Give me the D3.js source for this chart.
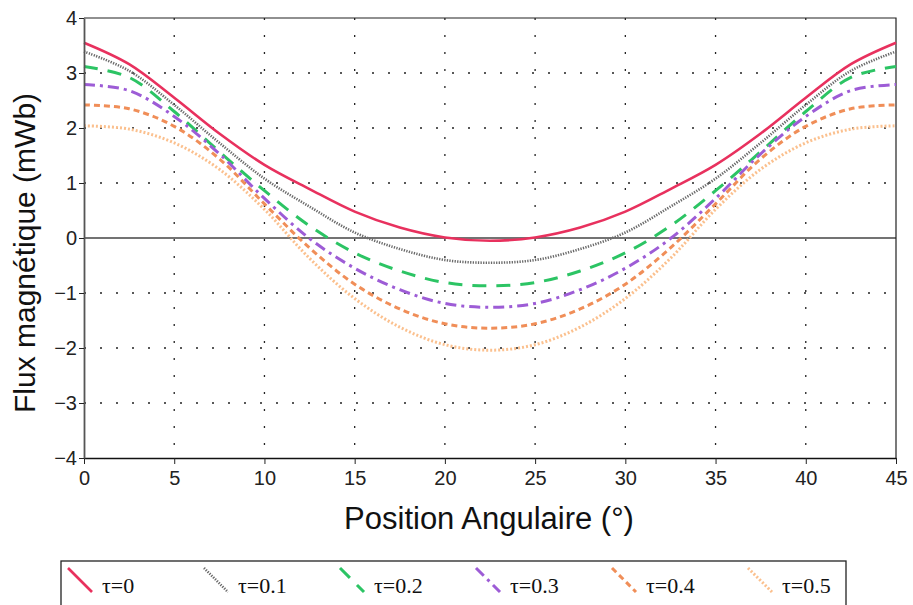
<!DOCTYPE html>
<html>
<head>
<meta charset="utf-8">
<script src="https://cdn.jsdelivr.net/npm/d3@7"></script>
<style>
  body { margin: 0; background: #fff; }
  svg { display: block; }
</style>
</head>
<body>
<svg id="chart" width="913" height="605"></svg>
<script>
// angular positions (degrees)
const angles = [0, 2.5, 5, 7.5, 10, 12.5, 15, 17.5, 20, 22.5, 25, 27.5, 30, 32.5, 35, 37.5, 40, 42.5, 45]

// flux (mWb), one array per tau
const tau0  = [3.55, 3.16, 2.55, 1.90, 1.33, 0.89, 0.48, 0.19, 0.01, -0.05, 0.01, 0.19, 0.48, 0.89, 1.33, 1.90, 2.55, 3.16, 3.55]
const tau01 = [3.39, 3.04, 2.42, 1.73, 1.08, 0.57, 0.10, -0.20, -0.40, -0.45, -0.40, -0.20, 0.10, 0.57, 1.08, 1.73, 2.42, 3.04, 3.39]
const tau02 = [3.12, 2.92, 2.30, 1.57, 0.86, 0.22, -0.27, -0.60, -0.81, -0.87, -0.81, -0.60, -0.27, 0.22, 0.86, 1.57, 2.30, 2.92, 3.12]
const tau03 = [2.79, 2.68, 2.21, 1.53, 0.72, -0.01, -0.55, -0.94, -1.19, -1.26, -1.19, -0.94, -0.55, -0.01, 0.72, 1.53, 2.21, 2.68, 2.79]
const tau04 = [2.42, 2.35, 2.03, 1.44, 0.62, -0.18, -0.84, -1.29, -1.56, -1.64, -1.56, -1.29, -0.84, -0.18, 0.62, 1.44, 2.03, 2.35, 2.42]
const tau05 = [2.04, 1.98, 1.73, 1.25, 0.52, -0.37, -1.10, -1.62, -1.94, -2.04, -1.94, -1.62, -1.10, -0.37, 0.52, 1.25, 1.73, 1.98, 2.04]

const seriesNames = ['τ=0', 'τ=0.1', 'τ=0.2', 'τ=0.3', 'τ=0.4', 'τ=0.5']
const seriesValues = [tau0, tau01, tau02, tau03, tau04, tau05]

const xTicks = [0, 5, 10, 15, 20, 25, 30, 35, 40, 45]
const yTicks = [-4, -3, -2, -1, 0, 1, 2, 3, 4]

// line styles
const styles = [
  {color: '#e8315e', width: 2.6, dash: null},
  {color: '#6a6a6a', width: 2.6, dash: '1.3,1.3'},
  {color: '#2cc464', width: 3, dash: '14,10'},
  {color: '#9d5cd6', width: 3, dash: '11,5,3,5'},
  {color: '#f08e58', width: 3, dash: '6,4'},
  {color: '#fbc08e', width: 3, dash: '2,2'}
]

const svg = d3.select('#chart')
const margin = {left: 84, top: 18, right: 17, bottom: 147}
const width = 913 - margin.left - margin.right
const height = 605 - margin.top - margin.bottom

const x = d3.scaleLinear().domain([0, 45]).range([0, width])
const y = d3.scaleLinear().domain([-4, 4]).range([height, 0])

const g = svg.append('g').attr('transform', `translate(${margin.left},${margin.top})`)

// dotted grid
g.append('g').selectAll('line')
  .data(xTicks.filter(t => t > 0 && t < 45))
  .join('line')
  .attr('x1', d => x(d)).attr('x2', d => x(d))
  .attr('y1', 0).attr('y2', height)
  .attr('stroke', '#222').attr('stroke-width', 1.3)
  .attr('stroke-dasharray', '2,15')
g.append('g').selectAll('line')
  .data(yTicks.filter(t => t > -4 && t < 4 && t !== 0))
  .join('line')
  .attr('x1', 0).attr('x2', width)
  .attr('y1', d => y(d)).attr('y2', d => y(d))
  .attr('stroke', '#222').attr('stroke-width', 1.3)
  .attr('stroke-dasharray', '2,14')

// zero line
g.append('line')
  .attr('x1', 0).attr('x2', width)
  .attr('y1', y(0)).attr('y2', y(0))
  .attr('stroke', '#444').attr('stroke-width', 1.3)

// frame top/right
g.append('path')
  .attr('d', `M0,0H${width}V${height}`)
  .attr('fill', 'none').attr('stroke', '#222').attr('stroke-width', 1.2)

// curves
const line = d3.line()
  .x((d, i) => x(angles[i]))
  .y(d => y(d))
  .curve(d3.curveCatmullRom.alpha(0.5))

seriesValues.forEach((vals, k) => {
  const s = styles[k]
  g.append('path')
    .datum(vals)
    .attr('d', line)
    .attr('fill', 'none')
    .attr('stroke', s.color)
    .attr('stroke-width', s.width)
    .attr('stroke-dasharray', s.dash)
})

// axes
const fmt = d => d < 0 ? '\u2212' + Math.abs(d) : String(d)
const xAxis = g.append('g')
  .attr('transform', `translate(0,${height})`)
  .call(d3.axisBottom(x).tickValues(xTicks).tickFormat(fmt).tickSize(6).tickSizeOuter(0))
const yAxis = g.append('g')
  .call(d3.axisLeft(y).tickValues(yTicks).tickFormat(fmt).tickSize(5).tickSizeOuter(0))

xAxis.select('.domain').attr('stroke', '#111').attr('stroke-width', 1.5)
yAxis.select('.domain').attr('stroke', '#555').attr('stroke-width', 1.8)
xAxis.selectAll('.tick line').attr('stroke', '#222')
yAxis.selectAll('.tick line').attr('stroke', '#222')
xAxis.selectAll('text')
  .attr('font-family', 'Liberation Sans, Arial, sans-serif')
  .attr('font-size', 20).attr('fill', '#222').attr('dy', '0.9em')
yAxis.selectAll('text')
  .attr('font-family', 'Liberation Sans, Arial, sans-serif')
  .attr('font-size', 20).attr('fill', '#222').attr('x', -7)

// axis titles
svg.append('text')
  .attr('x', margin.left + width / 2 - 1).attr('y', 529)
  .attr('text-anchor', 'middle')
  .attr('font-family', 'Liberation Sans, Arial, sans-serif')
  .attr('font-size', 31).attr('fill', '#111')
  .text('Position Angulaire (°)')
svg.append('text')
  .attr('transform', `translate(35,${margin.top + height / 2 + 15}) rotate(-90)`)
  .attr('text-anchor', 'middle')
  .attr('font-family', 'Liberation Sans, Arial, sans-serif')
  .attr('font-size', 30).attr('fill', '#111')
  .text('Flux magnétique (mWb)')

// legend
const legend = svg.append('g')
legend.append('rect')
  .attr('x', 61).attr('y', 561).attr('width', 785).attr('height', 60)
  .attr('fill', '#fff').attr('stroke', '#222').attr('stroke-width', 1.3)

const item = legend.selectAll('g.item')
  .data(seriesNames)
  .join('g')
  .attr('class', 'item')
  .attr('transform', (d, i) => `translate(${68 + i * 136},0)`)
item.append('line')
  .attr('x1', 0).attr('y1', 568).attr('x2', 24).attr('y2', 592)
  .attr('stroke', (d, i) => styles[i].color)
  .attr('stroke-width', (d, i) => styles[i].width)
  .attr('stroke-dasharray', (d, i) => styles[i].dash)
item.append('text')
  .attr('x', 34).attr('y', 593)
  .attr('font-family', 'Liberation Serif, Times New Roman, serif')
  .attr('font-size', 22).attr('fill', '#111')
  .text(d => d)
</script>
</body>
</html>
